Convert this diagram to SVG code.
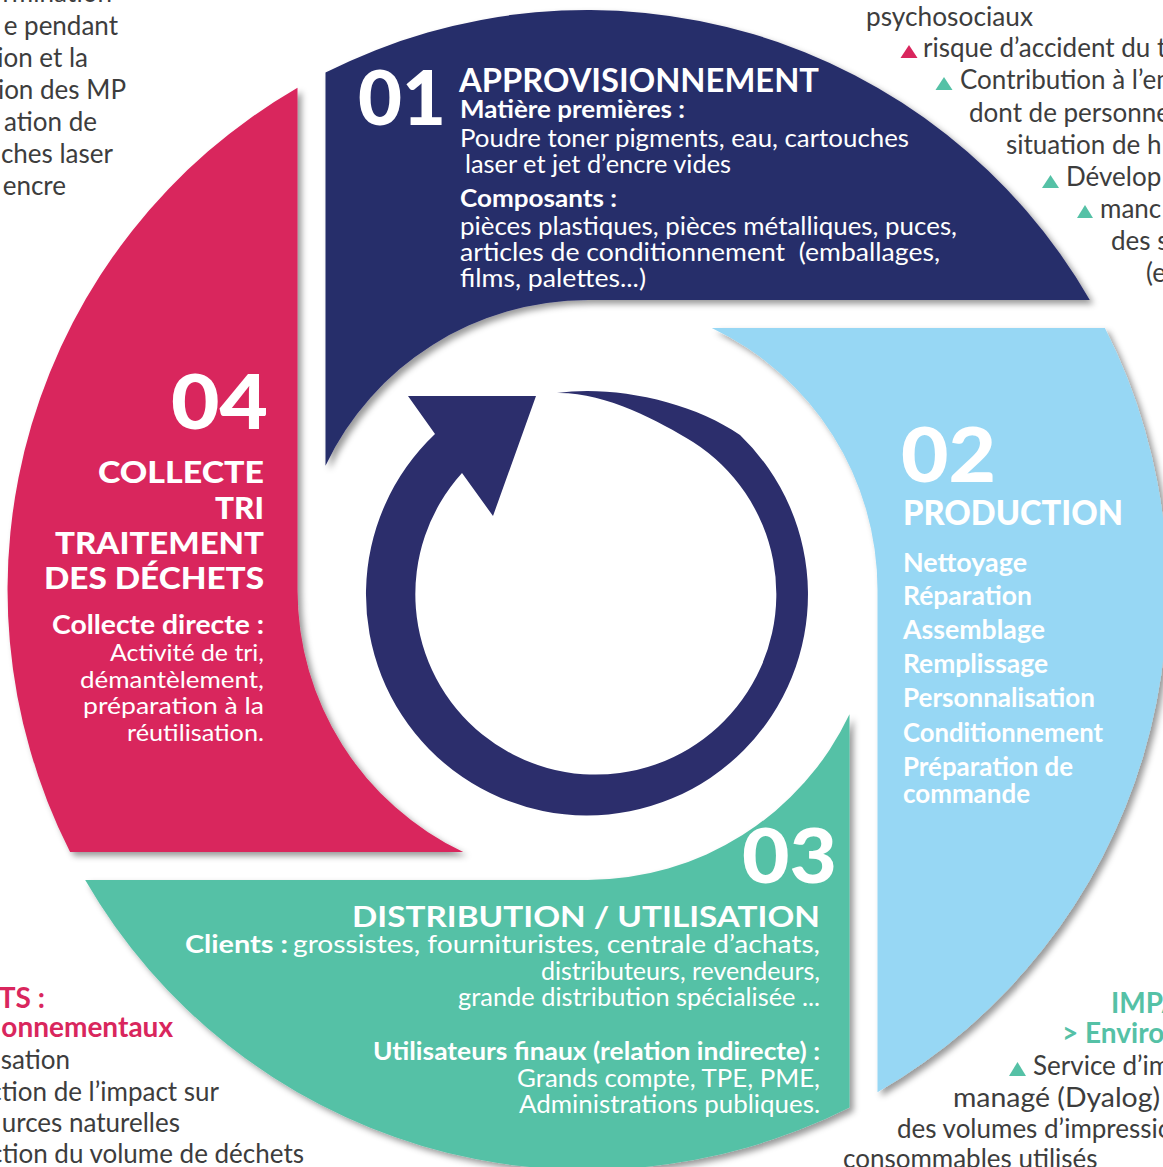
<svg xmlns="http://www.w3.org/2000/svg" width="1163" height="1167" viewBox="0 0 1163 1167">
<defs>
<filter id="sh" x="-10%" y="-10%" width="130%" height="130%">
<feDropShadow dx="4" dy="4" stdDeviation="3" flood-color="#000" flood-opacity="0.4"/>
</filter>
<style>
text{font-family:Lato,"Open Sans","Liberation Sans",sans-serif}
.w{fill:#fff}
.b{font-weight:700}
.k{font-weight:900}
.g{fill:#3d3d3d;font-size:26px}
.gr{fill:#d9265d;font-size:28px;font-weight:700}
.gt{fill:#55c1a6;font-size:28px;font-weight:700}
.num{font-size:76px;font-weight:900}
.s1{font-size:25px}
.s2{font-size:26px}
.pr{white-space:pre}
</style>
</defs>
<rect width="1163" height="1167" fill="#fff"/>

<g id="side-texts">
<g id="topleft">
<text class="g" x="112" y="2" text-anchor="end">ormination</text>
<text class="g" x="118" y="35" text-anchor="end">e pendant</text>
<text class="g" x="88" y="67" text-anchor="end">ion et la</text>
<text class="g" x="126" y="99" text-anchor="end">ion des MP</text>
<text class="g" x="97" y="131" text-anchor="end">ation de</text>
<text class="g" x="113" y="163" text-anchor="end">ches laser</text>
<text class="g" x="66" y="195" text-anchor="end">encre</text>
</g>
<g id="topright">
<text class="g" x="866" y="26" textLength="167" lengthAdjust="spacingAndGlyphs">psychosociaux</text>
<polygon points="909,45 917.5,58 900.5,58" fill="#d9265d"/>
<text class="g" x="923" y="57">risque d’accident du t</text>
<polygon points="944,77 952.5,90 935.5,90" fill="#55c1a6"/>
<text class="g" x="960" y="89">Contribution à l’em</text>
<text class="g" x="969" y="122">dont de personne</text>
<text class="g" x="1006" y="154">situation de h</text>
<polygon points="1050.5,175 1059,188 1042,188" fill="#55c1a6"/>
<text class="g" x="1066" y="186">Dévelop</text>
<polygon points="1085,205 1093,218 1077,218" fill="#55c1a6"/>
<text class="g" x="1100" y="218">manc</text>
<text class="g" x="1111" y="250">des s</text>
<text class="g" x="1146" y="282">(e</text>
</g>
<g id="bottomleft">
<text class="gr" x="45" y="1008" text-anchor="end">TS :</text>
<text class="gr" x="173" y="1037" text-anchor="end">onnementaux</text>
<text class="g" x="70" y="1069" text-anchor="end">sation</text>
<text class="g" x="219" y="1101" text-anchor="end">ction de l’impact sur</text>
<text class="g" x="180" y="1132" text-anchor="end">urces naturelles</text>
<text class="g" x="304" y="1163" text-anchor="end">ction du volume de déchets</text>
</g>
<g id="bottomright">
<text class="gt" x="1111" y="1013">IMPA</text>
<text class="gt" x="1062" y="1043">&gt; Enviro</text>
<polygon points="1017.5,1062 1026,1076 1009,1076" fill="#55c1a6"/>
<text class="g" x="1033" y="1075">Service d’im</text>
<text class="g" x="953" y="1107" textLength="207" lengthAdjust="spacingAndGlyphs">managé (Dyalog)</text>
<text class="g" x="897" y="1138">des volumes d’impressio</text>
<text class="g" x="843" y="1168">consommables utilisés</text>
</g>
</g>

<g id="node-01">
<path d="M325.5 465.7 L325.5 72.6 A580 580 0 0 1 1089.8 300 L587.5 300 A290 290 0 0 0 325.5 465.7 Z" fill="#272d6b" filter="url(#sh)"/>
<text class="w num" x="358" y="125" textLength="88" lengthAdjust="spacingAndGlyphs">01</text>
<text class="w b" x="459" y="92" font-size="32" textLength="360" lengthAdjust="spacingAndGlyphs">APPROVISIONNEMENT</text>
<text class="w b" x="460" y="118" font-size="24" textLength="225" lengthAdjust="spacingAndGlyphs">Matière premières :</text>
<text class="w s1" x="460" y="147" textLength="449" lengthAdjust="spacingAndGlyphs">Poudre toner pigments, eau, cartouches</text>
<text class="w s1" x="465" y="173" textLength="266" lengthAdjust="spacingAndGlyphs">laser et jet d’encre vides</text>
<text class="w b" x="460" y="207" font-size="24" textLength="157" lengthAdjust="spacingAndGlyphs">Composants :</text>
<text class="w s1" x="460" y="235" textLength="497" lengthAdjust="spacingAndGlyphs">pièces plastiques, pièces métalliques, puces,</text>
<text class="w s1 pr" x="460" y="261" textLength="480" lengthAdjust="spacingAndGlyphs">articles de conditionnement  (emballages,</text>
<text class="w s1" x="460" y="287" textLength="186" lengthAdjust="spacingAndGlyphs">films, palettes...)</text>
</g>

<g id="node-02">
<path d="M711.8 328 L1104.9 328 A580 580 0 0 1 877.5 1092.3 L877.5 590 A290 290 0 0 0 711.8 328 Z" fill="#97d7f4" filter="url(#sh)"/>
<text class="w num" x="901" y="482" textLength="95" lengthAdjust="spacingAndGlyphs">02</text>
<text class="w k" x="903" y="525" font-size="34" textLength="220" lengthAdjust="spacingAndGlyphs">PRODUCTION</text>
<text class="w b s2" x="903" y="572" textLength="124" lengthAdjust="spacingAndGlyphs">Nettoyage</text>
<text class="w b s2" x="903" y="605" textLength="129" lengthAdjust="spacingAndGlyphs">Réparation</text>
<text class="w b s2" x="903" y="639" textLength="142" lengthAdjust="spacingAndGlyphs">Assemblage</text>
<text class="w b s2" x="903" y="673" textLength="145" lengthAdjust="spacingAndGlyphs">Remplissage</text>
<text class="w b s2" x="903" y="707" textLength="192" lengthAdjust="spacingAndGlyphs">Personnalisation</text>
<text class="w b s2" x="903" y="742" textLength="200" lengthAdjust="spacingAndGlyphs">Conditionnement</text>
<text class="w b s2" x="903" y="776" textLength="170" lengthAdjust="spacingAndGlyphs">Préparation de</text>
<text class="w b s2" x="903" y="803" textLength="127" lengthAdjust="spacingAndGlyphs">commande</text>
</g>

<g id="node-03">
<path d="M849.5 714.3 L849.5 1107.4 A580 580 0 0 1 85.2 880 L587.5 880 A290 290 0 0 0 849.5 714.3 Z" fill="#55c1a6" filter="url(#sh)"/>
<text class="w num" x="742" y="883" textLength="95" lengthAdjust="spacingAndGlyphs">03</text>
<text class="w b" x="820" y="927" font-size="29" text-anchor="end" textLength="468" lengthAdjust="spacingAndGlyphs">DISTRIBUTION / UTILISATION</text>
<text class="w b s1" x="185" y="953" textLength="103" lengthAdjust="spacingAndGlyphs">Clients :</text>
<text class="w s1" x="293" y="953" textLength="527" lengthAdjust="spacingAndGlyphs">grossistes, fournituristes, centrale d’achats,</text>
<text class="w s1" x="820" y="980" text-anchor="end" textLength="279" lengthAdjust="spacingAndGlyphs">distributeurs, revendeurs,</text>
<text class="w s1" x="820" y="1006" text-anchor="end" textLength="362" lengthAdjust="spacingAndGlyphs">grande distribution spécialisée ...</text>
<text class="w b s1" x="820" y="1060" text-anchor="end" textLength="447" lengthAdjust="spacingAndGlyphs">Utilisateurs finaux (relation indirecte) :</text>
<text class="w s1" x="820" y="1087" text-anchor="end" textLength="303" lengthAdjust="spacingAndGlyphs">Grands compte, TPE, PME,</text>
<text class="w s1" x="820" y="1113" text-anchor="end" textLength="301" lengthAdjust="spacingAndGlyphs">Administrations publiques.</text>
</g>

<g id="node-04">
<path d="M463.2 852 L70.1 852 A580 580 0 0 1 297.5 87.7 L297.5 590 A290 290 0 0 0 463.2 852 Z" fill="#d9265d" filter="url(#sh)"/>
<text class="w num" x="268" y="429" text-anchor="end" textLength="97" lengthAdjust="spacingAndGlyphs">04</text>
<text class="w k" x="264" y="483" font-size="31" text-anchor="end" textLength="166" lengthAdjust="spacingAndGlyphs">COLLECTE</text>
<text class="w k" x="264" y="519" font-size="31" text-anchor="end" textLength="49" lengthAdjust="spacingAndGlyphs">TRI</text>
<text class="w k" x="264" y="554" font-size="31" text-anchor="end" textLength="209" lengthAdjust="spacingAndGlyphs">TRAITEMENT</text>
<text class="w k" x="264" y="589" font-size="31" text-anchor="end" textLength="220" lengthAdjust="spacingAndGlyphs">DES DÉCHETS</text>
<text class="w b s2" x="264" y="634" text-anchor="end" textLength="212" lengthAdjust="spacingAndGlyphs">Collecte directe :</text>
<text class="w" x="264" y="661" font-size="24" text-anchor="end" textLength="154" lengthAdjust="spacingAndGlyphs">Activité de tri,</text>
<text class="w" x="264" y="688" font-size="24" text-anchor="end" textLength="184" lengthAdjust="spacingAndGlyphs">démantèlement,</text>
<text class="w" x="264" y="714" font-size="24" text-anchor="end" textLength="181" lengthAdjust="spacingAndGlyphs">préparation à la</text>
<text class="w" x="264" y="741" font-size="24" text-anchor="end" textLength="137" lengthAdjust="spacingAndGlyphs">réutilisation.</text>
</g>

<g id="connectors">
<path id="cycle-arrow" d="M557 393 C610 385 690 400 740 435 A221 221 0 1 1 435 434 L408 396 L536 396 L493 516 L462 473 A180.5 180.5 0 1 0 693 442 C659 421 605 392 557 393 Z" fill="#2c2e6c"/>
</g>
</svg>
